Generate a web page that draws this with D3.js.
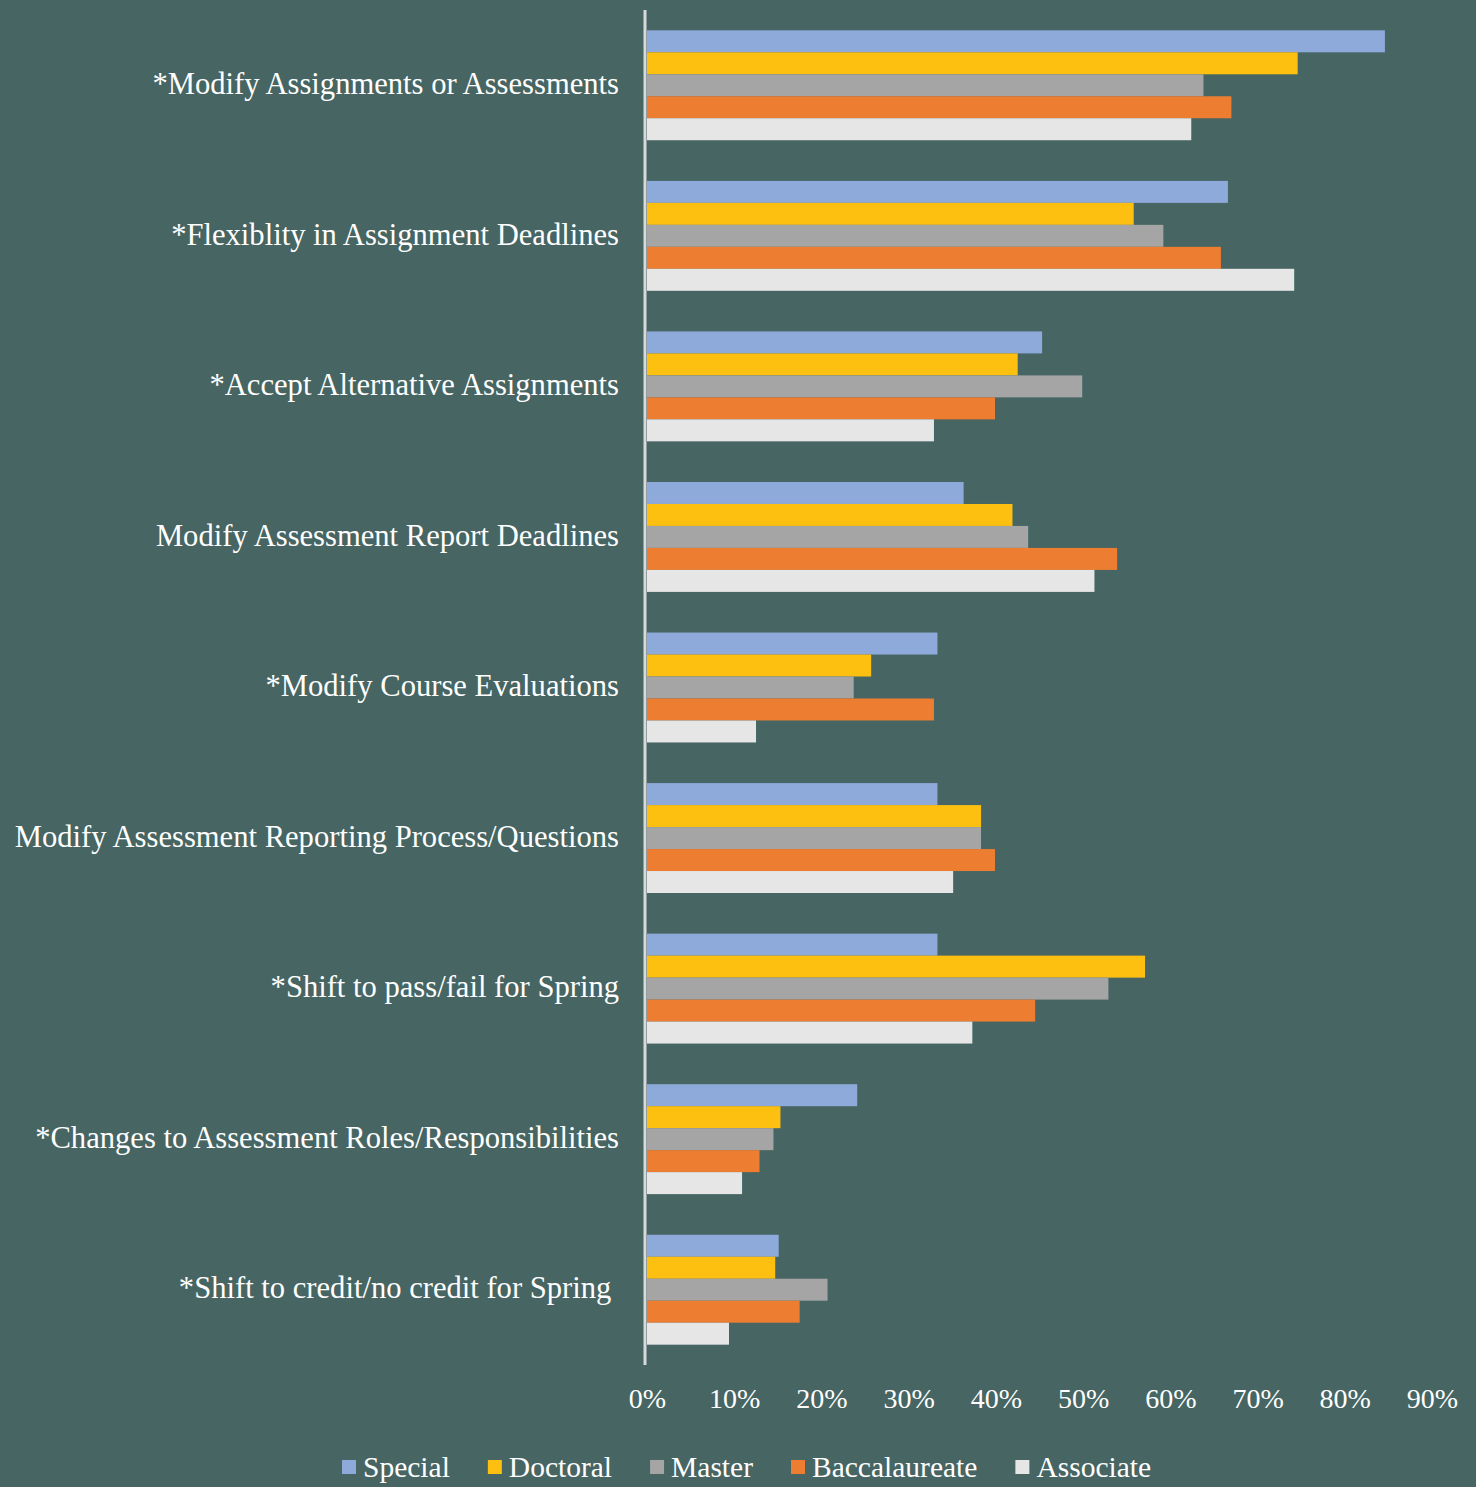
<!DOCTYPE html>
<html>
<head>
<meta charset="utf-8">
<script src="https://cdn.jsdelivr.net/npm/d3@7"></script>
<style>
  html, body { margin: 0; padding: 0; background: #466563; }
  svg { display: block; }
  text { font-family: "Liberation Serif", "DejaVu Serif", serif; fill: #ffffff; }
  .cat-label { white-space: pre; }
</style>
</head>
<body>
<div id="chart"></div>
<script>
// categories, top to bottom (last one has a trailing space in the original)
const categories = [
  "*Modify Assignments or Assessments",
  "*Flexiblity in Assignment Deadlines",
  "*Accept Alternative Assignments",
  "Modify Assessment Report Deadlines",
  "*Modify Course Evaluations",
  "Modify Assessment Reporting Process/Questions",
  "*Shift to pass/fail for Spring",
  "*Changes to Assessment Roles/Responsibilities",
  "*Shift to credit/no credit for Spring "
];

const seriesNames = ["Special", "Doctoral", "Master", "Baccalaureate", "Associate"];
const seriesColors = ["#8eaadb", "#fdc011", "#a5a5a5", "#ed7d31", "#e7e6e6"];

// values in percent, one array per series (same order as categories)
const special       = [84.6, 66.6, 45.3, 36.3, 33.3, 33.3, 33.3, 24.1, 15.1];
const doctoral      = [74.6, 55.8, 42.5, 41.9, 25.7, 38.3, 57.1, 15.3, 14.7];
const master        = [63.8, 59.2, 49.9, 43.7, 23.7, 38.3, 52.9, 14.5, 20.7];
const baccalaureate = [67.0, 65.8, 39.9, 53.9, 32.9, 39.9, 44.5, 12.9, 17.5];
const associate     = [62.4, 74.2, 32.9, 51.3, 12.5, 35.1, 37.3, 10.9, 9.4];

const xTicks = [0, 10, 20, 30, 40, 50, 60, 70, 80, 90];

const seriesValues = [special, doctoral, master, baccalaureate, associate];

const W = 1476, H = 1487;
const plotLeft = 647, plotRight = 1432, plotTop = 10, plotBottom = 1365;

const svg = d3.select("#chart").append("svg")
  .attr("width", W)
  .attr("height", H);

svg.append("rect").attr("width", W).attr("height", H).attr("fill", "#466563");

const x = d3.scaleLinear().domain([0, 90]).range([plotLeft, plotRight]);

const y = d3.scaleBand()
  .domain(categories)
  .range([plotTop, plotBottom])
  .paddingInner(0.27)
  .paddingOuter(0.135);

const ySub = d3.scaleBand()
  .domain(seriesNames)
  .range([0, y.bandwidth()]);

// rows of data for the bars
const rows = [];
categories.forEach((c, i) => {
  seriesNames.forEach((s, j) => {
    rows.push({ cat: c, series: s, value: seriesValues[j][i], color: seriesColors[j] });
  });
});

svg.append("g")
  .selectAll("rect")
  .data(rows)
  .join("rect")
  .attr("x", x(0))
  .attr("y", d => y(d.cat) + ySub(d.series))
  .attr("width", d => x(d.value) - x(0))
  .attr("height", ySub.bandwidth())
  .attr("fill", d => d.color);

// vertical axis line
svg.append("line")
  .attr("x1", x(0) - 2).attr("x2", x(0) - 2)
  .attr("y1", plotTop).attr("y2", plotBottom)
  .attr("stroke", "#d9d9d9")
  .attr("stroke-width", 3);

// category labels
svg.append("g")
  .selectAll("text")
  .data(categories)
  .join("text")
  .attr("class", "cat-label")
  .attr("x", 619)
  .attr("y", d => y(d) + y.bandwidth() / 2 - 2)
  .attr("dy", "0.35em")
  .attr("text-anchor", "end")
  .style("font-size", "30.6px")
  .text(d => d);

// x axis tick labels
const xAxis = d3.axisBottom(x)
  .tickValues(xTicks)
  .tickFormat(d => d + "%")
  .tickSize(0)
  .tickPadding(0);

const gx = svg.append("g")
  .attr("transform", `translate(0, ${plotBottom + 23})`)
  .call(xAxis);
gx.select(".domain").remove();
gx.selectAll("text")
  .attr("fill", "#ffffff")
  .style("font-family", "'Liberation Serif', serif")
  .style("font-size", "28px");

// legend
const legend = svg.append("g").attr("transform", "translate(342, 1467)");
let lx = 0;
seriesNames.forEach((s, j) => {
  const item = legend.append("g").attr("transform", `translate(${lx}, 0)`);
  item.append("rect")
    .attr("x", 0).attr("y", -7)
    .attr("width", 14).attr("height", 14)
    .attr("fill", seriesColors[j]);
  const t = item.append("text")
    .attr("x", 21)
    .attr("dy", "0.35em")
    .style("font-size", "29.5px")
    .text(s);
  lx += 21 + t.node().getComputedTextLength() + 38;
});
</script>
</body>
</html>
